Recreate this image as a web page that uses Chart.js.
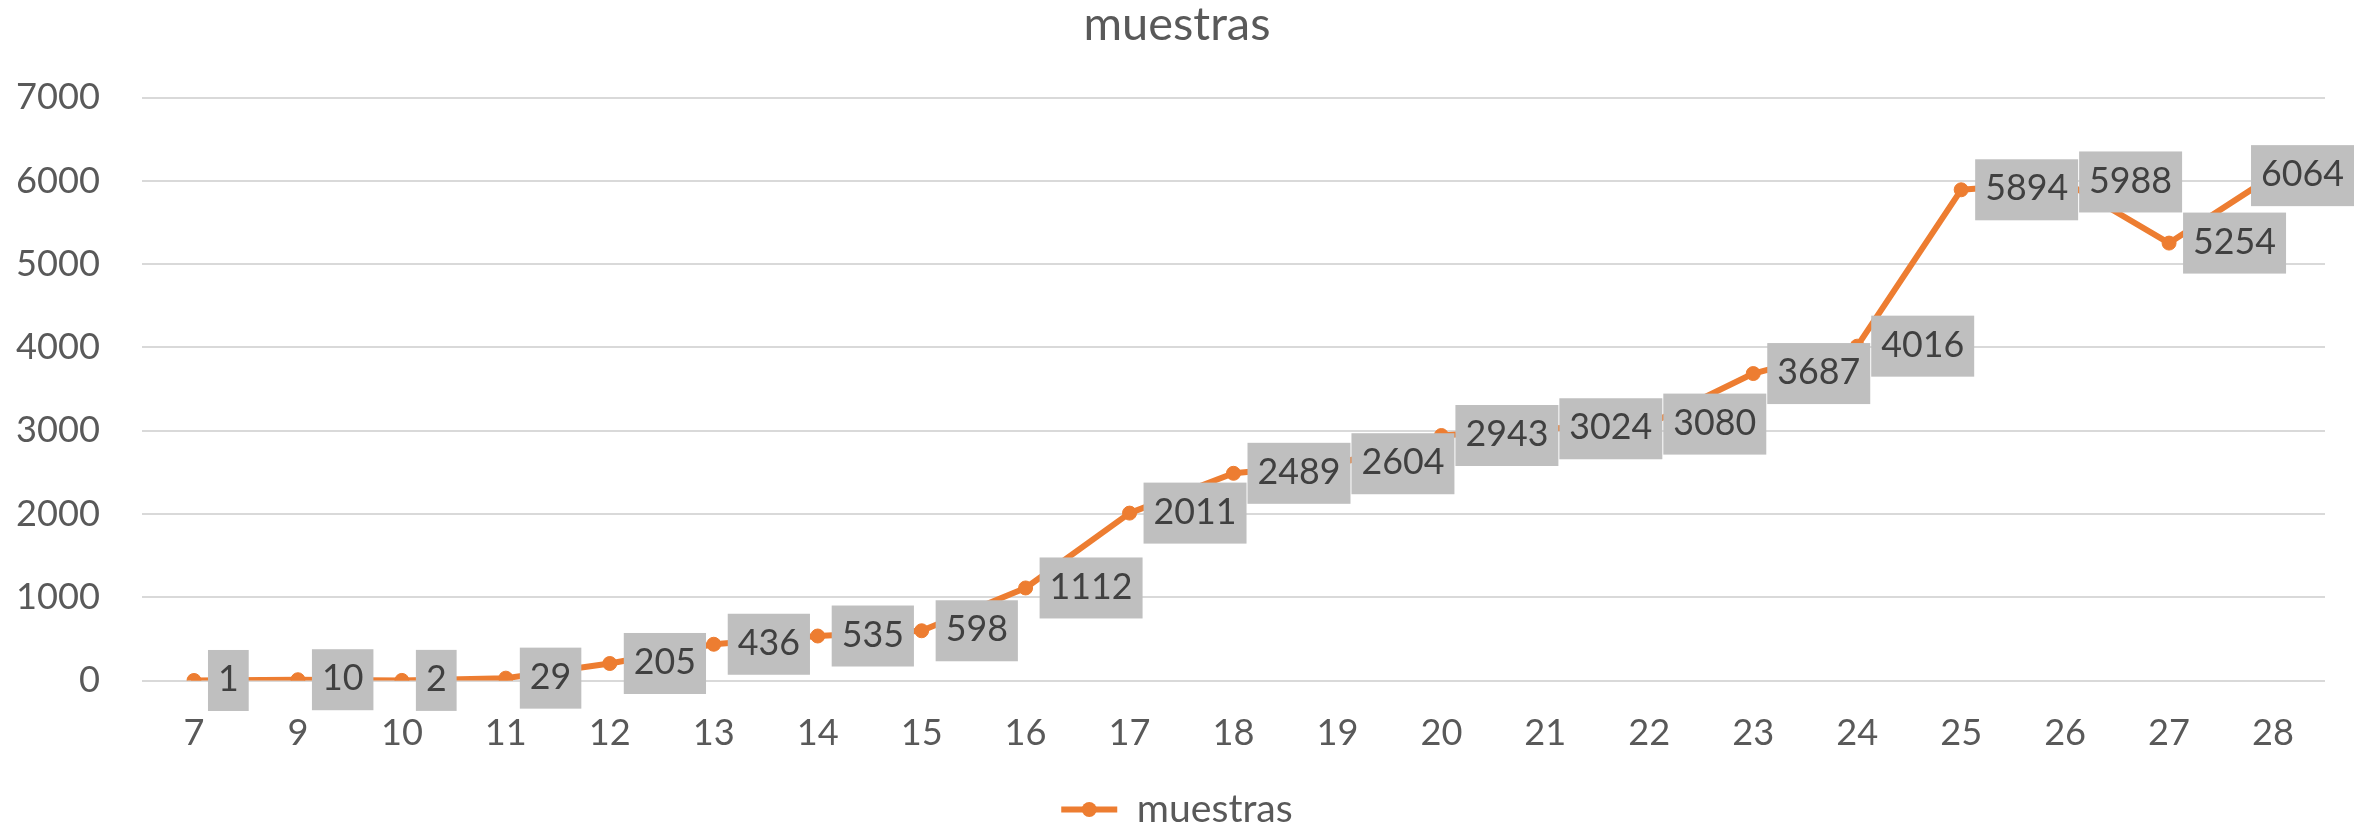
<!DOCTYPE html>
<html>
<head>
<meta charset="utf-8">
<script src="https://cdn.jsdelivr.net/npm/chart.js@4.4.1/dist/chart.umd.min.js"></script>
<style>
html,body{margin:0;padding:0;background:#ffffff;overflow:hidden}
#wrap{width:2369px;height:830px;position:relative}
</style>
</head>
<body>
<div id="wrap"><canvas id="c" width="2369" height="830"></canvas></div>
<script>
// ---- data ----
const chartTitle = 'muestras';
const seriesName = 'muestras';
const categories = ['7','9','10','11','12','13','14','15','16','17','18','19','20','21','22','23','24','25','26','27','28'];
const muestras = [1,10,2,29,205,436,535,598,1112,2011,2489,2604,2943,3024,3080,3687,4016,5894,5988,5254,6064];
const yTicks = [0,1000,2000,3000,4000,5000,6000,7000];

// ---- style ----
const FAMILY = 'Lato';
const ORANGE = '#ED7D31';
const TEXT = '#595959';
function fitSize(text, target){
  const c = document.createElement('canvas').getContext('2d');
  c.font = '100px ' + FAMILY;
  return 100 * target / c.measureText(text).width;
}
const tickSize = fitSize('7000', 84);
const labelSize = fitSize('5254', 83);
const legendSize = fitSize('muestras', 156);
const titleSize = fitSize('muestras', 187);

const W = 2369, H = 830;
const plotTop = 97.7, plotBottom = 681.7, plotLeft = 142, plotRight = 2325;
const padL = 0, padR = 15, padB = -9;
const rightGap = W - padR - plotRight;
const legendTop = 791;
const titleTopPad = 4;

const boxLabels = {
  id: 'boxLabels',
  afterDatasetsDraw(chart){
    const ctx = chart.ctx;
    const meta = chart.getDatasetMeta(0);
    const vals = chart.data.datasets[0].data;
    ctx.save();
    ctx.font = labelSize + 'px ' + FAMILY;
    ctx.textAlign = 'center';
    ctx.textBaseline = 'middle';
    meta.data.forEach((pt, i) => {
      const txt = String(vals[i]);
      const tw = ctx.measureText(txt).width;
      const bw = tw + 20, bh = 61;
      let x0 = pt.x + 14;
      if (x0 + bw > chart.width - 15) x0 = chart.width - 15 - bw;
      const y0 = pt.y - bh / 2;
      ctx.fillStyle = '#BFBFBF';
      ctx.fillRect(x0, y0, bw, bh);
      ctx.fillStyle = '#404040';
      ctx.fillText(txt, x0 + bw / 2, pt.y - 1);
    });
    ctx.restore();
  },
  afterDraw(chart){
    const lg = chart.legend;
    if (!lg || !lg.legendHitBoxes || !lg.legendHitBoxes.length) return;
    const hb = lg.legendHitBoxes[0];
    const ctx = chart.ctx;
    ctx.save();
    ctx.fillStyle = ORANGE;
    ctx.beginPath();
    ctx.arc(hb.left + 28, hb.top + legendSize / 2, 7.5, 0, Math.PI * 2);
    ctx.fill();
    ctx.restore();
  }
};

new Chart(document.getElementById('c'), {
  type: 'line',
  data: {
    labels: categories,
    datasets: [{
      label: seriesName,
      data: muestras,
      yAxisID: 'y',
      borderColor: ORANGE,
      backgroundColor: ORANGE,
      borderWidth: 6,
      borderJoinStyle: 'round',
      borderCapStyle: 'round',
      tension: 0,
      fill: false,
      pointRadius: 7,
      pointBorderWidth: 1,
      pointBackgroundColor: ORANGE,
      pointBorderColor: ORANGE
    }]
  },
  options: {
    responsive: false,
    animation: false,
    devicePixelRatio: 1,
    layout: { padding: { top: 0, left: padL, right: padR, bottom: padB } },
    scales: {
      x: {
        type: 'category',
        offset: true,
        grid: { display: false, drawTicks: false },
        border: { display: false },
        ticks: { color: TEXT, font: { family: FAMILY, size: tickSize }, padding: 31, maxRotation: 0, autoSkip: false },
        afterFit(scale){ scale.height = legendTop - plotBottom; }
      },
      y: {
        position: 'left',
        min: 0,
        max: 7000,
        grid: { color: '#D9D9D9', lineWidth: 2, drawTicks: false },
        border: { display: false },
        ticks: {
          color: TEXT, font: { family: FAMILY, size: tickSize }, padding: 42, stepSize: 1000,
          callback: (v) => String(v)
        },
        afterBuildTicks(scale){ scale.ticks = yTicks.map(v => ({ value: v })); },
        afterFit(scale){ scale.width = plotLeft - padL; }
      },
      yRightSpace: {
        type: 'linear',
        position: 'right',
        min: 0,
        max: 7000,
        grid: { display: false, drawTicks: false },
        border: { display: false },
        ticks: { display: false },
        afterFit(scale){ scale.width = rightGap; }
      }
    },
    plugins: {
      title: {
        display: true,
        text: chartTitle,
        color: TEXT,
        font: { family: FAMILY, size: titleSize, weight: 'normal', lineHeight: 0.9 },
        padding: { top: titleTopPad, bottom: plotTop - titleTopPad - titleSize * 0.9 }
      },
      legend: {
        display: true,
        position: 'bottom',
        labels: {
          color: TEXT,
          font: { family: FAMILY, size: legendSize },
          boxWidth: 56,
          boxHeight: 6,
          padding: 0,
          generateLabels(chart){
            const items = Chart.defaults.plugins.legend.labels.generateLabels(chart);
            items.forEach(it => { it.lineWidth = 0; it.fillStyle = ORANGE; it.strokeStyle = ORANGE; });
            return items;
          }
        }
      },
      tooltip: { enabled: false }
    }
  },
  plugins: [boxLabels]
});
</script>
</body>
</html>
